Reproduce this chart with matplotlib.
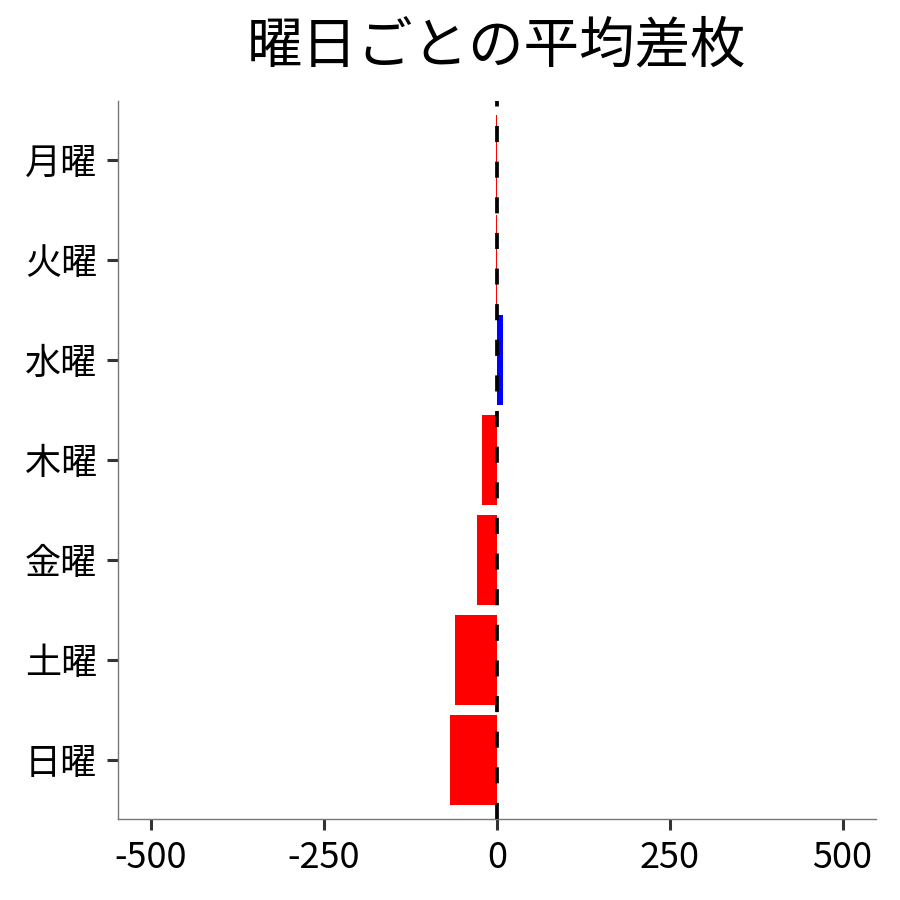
import matplotlib
matplotlib.use("Agg")
import matplotlib.pyplot as plt

plt.rcParams['font.family'] = ['Noto Sans CJK JP', 'DejaVu Sans']

days = ["日曜", "土曜", "金曜", "木曜", "水曜", "火曜", "月曜"]
values = [-67, -60, -29, -22, 9, -1, -1]
xticks = [-500, -250, 0, 250, 500]
xtick_labels = ["-500", "-250", "0", "250", "500"]
title = "曜日ごとの平均差枚"

colors = ["#0000ff" if v > 0 else "#ff0000" for v in values]

fig = plt.figure(figsize=(9, 9), dpi=100)
ax = fig.add_axes([0.131, 0.09, 0.842, 0.798])
ax.barh(range(len(days)), values, height=0.9, color=colors, zorder=2)
ax.axvline(0, color="black", lw=2.7, dashes=(4.3, 5.2), zorder=3)

ax.set_xlim(-548, 548)
ax.set_ylim(-0.59, len(days) - 1 + 0.59)
ax.set_yticks(range(len(days)))
ax.set_yticklabels(days)
ax.set_xticks(xticks)
ax.set_xticklabels(xtick_labels)
ax.tick_params(axis="both", labelsize=26, length=8, width=2.2, color="#333333", pad=7)

for s in ["top", "right"]:
    ax.spines[s].set_visible(False)
for s in ["left", "bottom"]:
    ax.spines[s].set_color("#777777")
    ax.spines[s].set_linewidth(1.0)

fig.text(0.552, 0.948, title, ha="center", va="center", fontsize=40)

fig.savefig("out.png", dpi=100)
